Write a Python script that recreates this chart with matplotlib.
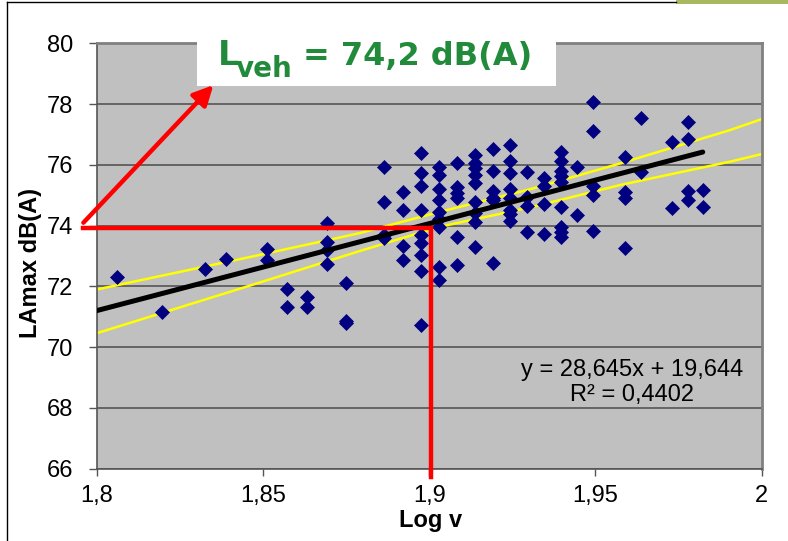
import numpy as np
import matplotlib
matplotlib.use("Agg")
import matplotlib.pyplot as plt
from matplotlib.patches import Rectangle
from matplotlib.lines import Line2D

plt.rcParams['font.family'] = ['Liberation Sans', 'DejaVu Sans']

# speed columns (km/h) and the LAmax values measured at each speed
speed_cols = [64, 66, 68, 69, 71, 72, 73, 74, 75, 77, 78, 79, 80, 81, 82, 83,
              84, 85, 86, 87, 88, 89, 91, 92, 94, 95, 96]
lamax_cols = [
    [72.3],
    [71.15],
    [72.58],
    [72.9],
    [73.22, 72.87],
    [71.91, 71.34],
    [71.66, 71.34],
    [74.08, 73.45, 73.2, 72.74],
    [72.1, 70.8, 70.85],
    [75.94, 74.77, 73.7, 73.58],
    [75.12, 74.52, 73.32, 72.87],
    [76.38, 75.74, 75.31, 74.52, 73.68, 73.42, 73.03, 72.5, 70.73],
    [75.92, 75.67, 75.2, 74.85, 74.46, 74.22, 73.97, 72.65, 72.21],
    [76.06, 75.29, 75.07, 74.9, 73.64, 72.71],
    [76.33, 76.07, 75.89, 75.67, 75.4, 74.77, 74.41, 74.11, 73.29],
    [76.51, 75.81, 75.14, 74.92, 74.85, 72.77],
    [76.66, 76.13, 75.74, 75.22, 74.92, 74.52, 74.38, 74.15],
    [75.77, 74.95, 74.65, 73.8],
    [75.58, 75.3, 74.72, 73.73],
    [76.42, 76.13, 75.8, 75.64, 75.45, 74.62, 73.96, 73.8, 73.64],
    [75.94, 74.35],
    [78.06, 77.12, 75.31, 75.01, 73.84],
    [76.25, 75.12, 74.9, 73.26],
    [77.54, 75.77],
    [76.75, 74.59],
    [77.42, 76.87, 75.14, 74.85],
    [75.18, 74.63],
]

# regression from the chart label
slope = 28.645
intercept = 19.644
r2 = 0.4402

# yellow band lines
band_x = [1.8, 1.8461, 1.8792, 1.9033, 1.9303, 1.9574, 1.9905, 2.0]
band_upper = [71.9, 72.97, 73.76, 74.46, 75.2, 76.05, 77.15, 77.51]
band_lower = [70.46, 72.03, 73.17, 73.97, 74.6, 75.34, 76.11, 76.36]

# red reading lines
read_x = 1.9005
read_y = 73.92

yticks = [66, 68, 70, 72, 74, 76, 78, 80]
xticks = [1.8, 1.85, 1.9, 1.95, 2.0]
xtick_labels = ['1,8', '1,85', '1,9', '1,95', '2']

logv = []
lamax = []
for s, vals in zip(speed_cols, lamax_cols):
    for v in vals:
        logv.append(np.log10(s))
        lamax.append(v)
logv = np.array(logv)
lamax = np.array(lamax)

fig = plt.figure(figsize=(7.88, 5.41), dpi=100)
ax = fig.add_axes([0.1227, 0.1336, 0.8439, 0.786])
ax.set_facecolor('#C0C0C0')
ax.set_xlim(1.8, 2.0)
ax.set_ylim(66, 80)
ax.set_yticks(yticks)
ax.set_yticklabels([str(t) for t in yticks])
ax.set_xticks(xticks)
ax.set_xticklabels(xtick_labels)
ax.yaxis.grid(True, color='#555555', lw=1.2)
ax.set_axisbelow(True)
ax.tick_params(axis='y', direction='out', length=6, width=1, color='#555555',
               labelsize=17, pad=11)
ax.tick_params(axis='x', direction='out', length=5, width=1, color='#555555',
               labelsize=17, pad=7)
for side in ['left', 'bottom']:
    ax.spines[side].set_color('#555555')
    ax.spines[side].set_linewidth(1.2)
for side in ['top', 'right']:
    ax.spines[side].set_color('#808080')
    ax.spines[side].set_linewidth(2)

# band, scatter, trendline
ax.plot(band_x, band_upper, color='#FFFF00', lw=1.8, zorder=2)
ax.plot(band_x, band_lower, color='#FFFF00', lw=1.8, zorder=2)
ax.plot(logv, lamax, 'D', color='#000080', ms=6.9, mec='#000080', mew=0.5,
        zorder=3)
tx = np.array([1.8, logv.max()])
ax.plot(tx, slope * tx + intercept, color='black', lw=3.6,
        solid_capstyle='round', zorder=4)

ax.text(1.961, 68.84, 'y = 28,645x + 19,644\nR² = ' + str(r2).replace('.', ','),
        ha='center', va='center', fontsize=17, linespacing=1.2)

ax.set_xlabel('Log v', fontsize=17, fontweight='bold')
ax.set_ylabel('LAmax dB(A)', fontsize=17, fontweight='bold')
ax.xaxis.set_label_coords(0.5027, -0.094)
ax.yaxis.set_label_coords(-0.082, 0.4838)

# white box behind the title
ax.add_patch(Rectangle((1.8302, 78.6), 1.9382 - 1.8302, 1.8, facecolor='white',
                       edgecolor='none', clip_on=False, zorder=5))

# red reading lines and arrow
ax.plot([1.796, read_x, read_x], [read_y, read_y, 65.73], color='#FF0000',
        lw=3.2, clip_on=False, zorder=6, solid_joinstyle='miter')
ax.annotate('', xy=(1.8351, 78.63), xytext=(1.796, 74.10),
            arrowprops=dict(arrowstyle='-|>,head_length=0.6,head_width=0.3',
                            color='#FF0000', lw=3.2, shrinkA=0, shrinkB=0,
                            mutation_scale=20),
            annotation_clip=False, zorder=7)

# title pieces
green = '#228B3B'
fig.text(218 / 788, 1 - 65 / 541, 'L', color=green, fontsize=24,
         fontweight='bold', family='DejaVu Sans', va='baseline', ha='left')
fig.text(236 / 788, 1 - 77 / 541, 'veh', color=green, fontsize=20,
         fontweight='bold', family='DejaVu Sans', va='baseline', ha='left')
fig.text(303 / 788, 1 - 65 / 541, '= 74,2 dB(A)', color=green, fontsize=23,
         fontweight='bold', family='DejaVu Sans', va='baseline', ha='left')

# frame of the slide chart
fig.add_artist(Line2D([7 / 788, 7 / 788], [0, 1 - 1.5 / 541],
                      transform=fig.transFigure, color='black', lw=1))
fig.add_artist(Line2D([7 / 788, 676 / 788], [1 - 1.5 / 541, 1 - 1.5 / 541],
                      transform=fig.transFigure, color='black', lw=1))
fig.add_artist(Rectangle((676 / 788, 1 - 4 / 541), 112 / 788, 4 / 541,
                         transform=fig.transFigure, facecolor='#A8B860',
                         edgecolor='none'))

fig.savefig('out.png', dpi=100)
